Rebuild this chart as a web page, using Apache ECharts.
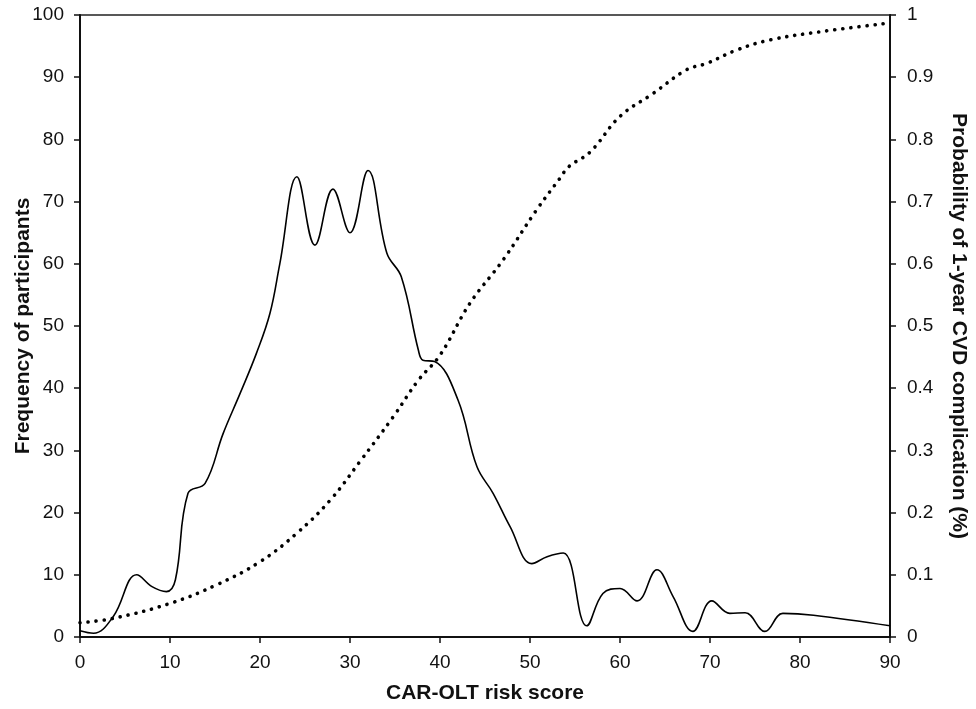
<!DOCTYPE html>
<html>
<head>
<meta charset="utf-8">
<script src="https://cdn.jsdelivr.net/npm/echarts@6/dist/echarts.min.js"></script>
<style>
  html, body { margin: 0; padding: 0; background: #fff; }
  #chart { width: 976px; height: 709px; }
</style>
</head>
<body>
<div id="chart"></div>
<script>
// risk score (x) and frequency of participants
var freqX = [0, 1.5, 3.7, 6.3, 8.0, 9.6, 10.6, 12.0, 13.9, 15.9, 17.8, 19.6, 21.1, 22.2, 24.1, 26.1, 28.1, 30.0, 32.0, 34.1, 35.7, 37.6, 38.1, 39.4, 42.0, 44.1, 45.9, 47.8, 50.2, 51.9, 53.7, 56.3, 58.1, 60.0, 61.9, 64.1, 65.9, 68.1, 70.2, 72.2, 73.9, 76.1, 78.1, 81.5, 90];
var freqY = [1, 0.6, 3.3, 10, 8.1, 7.3, 9.2, 23.1, 24.7, 32.7, 39.2, 45.6, 52, 60, 74, 63, 72, 65, 75, 61.7, 57.9, 46.1, 44.5, 44.3, 38.1, 27.4, 23.1, 17.7, 11.8, 12.9, 13.5, 1.8, 7.0, 7.8, 5.8, 10.8, 6.5, 0.9, 5.8, 3.8, 3.9, 0.9, 3.8, 3.5, 1.8];

// probability of 1-year CVD complication (dotted curve)
var probX = [0, 3.7, 10, 15.2, 20, 24.1, 27.8, 31.1, 34.8, 37.6, 40, 43.3, 47.0, 50.7, 53.3, 54.3, 56.7, 60, 63.7, 67.4, 69.6, 73, 76.7, 82.2, 89.3];
var probY = [0.023, 0.030, 0.054, 0.084, 0.121, 0.167, 0.220, 0.282, 0.354, 0.413, 0.453, 0.536, 0.606, 0.686, 0.737, 0.756, 0.780, 0.837, 0.874, 0.912, 0.922, 0.944, 0.960, 0.973, 0.986];

var freqData = freqX.map(function (x, i) { return [x, freqY[i]] })
var probData = probX.map(function (x, i) { return [x, probY[i]] })

var font = 'Liberation Sans, Arial, sans-serif'
var nameStyle = { fontFamily: font, fontSize: 21, fontWeight: 'bold', color: '#111' }
var labelStyle = { fontFamily: font, fontSize: 19, color: '#111' }
var chart = echarts.init(document.getElementById('chart'))
chart.setOption({
    animation: false,
    grid: {
        left: 80, right: 86, top: 15, bottom: 72,
        outerBoundsMode: 'none', containLabel: false,
        show: true, borderColor: '#222', borderWidth: 1.5
    },
    xAxis: {
        type: 'value', min: 0, max: 90, interval: 10,
        name: 'CAR-OLT risk score', nameLocation: 'middle', nameGap: 46,
        nameMoveOverlap: false,
        nameTextStyle: nameStyle,
        axisLine: { show: true, lineStyle: { color: '#111', width: 2 } },
        axisTick: { show: true, inside: false, length: 6, lineStyle: { color: '#111', width: 1.5 } },
        axisLabel: Object.assign({ margin: 16 }, labelStyle),
        splitLine: { show: false }
    },
    yAxis: [{
        type: 'value', min: 0, max: 100, interval: 10,
        name: 'Frequency of participants', nameLocation: 'middle', nameGap: 46,
        nameMoveOverlap: false,
        nameTextStyle: nameStyle,
        axisLine: { show: true, lineStyle: { color: '#111', width: 2 } },
        axisTick: { show: true, inside: false, length: 6, lineStyle: { color: '#111', width: 1.5 } },
        axisLabel: Object.assign({ margin: 16 }, labelStyle),
        splitLine: { show: false }
    }, {
        type: 'value', min: 0, max: 1, interval: 0.1, position: 'right',
        name: 'Probability of 1-year CVD complication (%)', nameLocation: 'middle', nameGap: 58,
        nameRotate: -90, nameMoveOverlap: false,
        nameTextStyle: nameStyle,
        axisLine: { show: true, lineStyle: { color: '#111', width: 2 } },
        axisTick: { show: true, inside: false, length: 6, lineStyle: { color: '#111', width: 1.5 } },
        axisLabel: Object.assign({ margin: 17 }, labelStyle),
        splitLine: { show: false }
    }],
    series: [{
        type: 'line', yAxisIndex: 0, data: freqData,
        smooth: 0.4, showSymbol: false,
        lineStyle: { color: '#000', width: 1.6 }
    }, {
        type: 'line', yAxisIndex: 1, data: probData,
        smooth: 0.4, showSymbol: false,
        lineStyle: { color: '#000', width: 3.6, type: [0.1, 8], cap: 'round' }
    }]
});
</script>
</body>
</html>
